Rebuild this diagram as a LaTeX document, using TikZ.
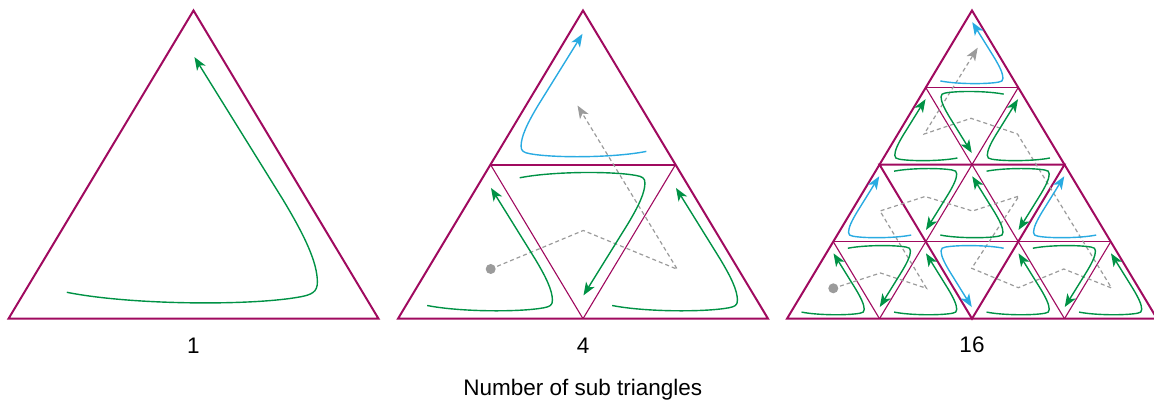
\documentclass[tikz,border=0pt]{standalone}
\usepackage{fontspec}
\setmainfont{Liberation Sans}
\usetikzlibrary{arrows.meta}
\definecolor{tri}{RGB}{160,10,95}
\definecolor{grn}{RGB}{0,146,69}
\definecolor{blu}{RGB}{41,171,226}
\definecolor{gry}{RGB}{155,155,155}
\newcommand\tricurve[4]{%
  \coordinate (cS)  at (barycentric cs:#1=0.7995,#2=0.1148,#3=0.0857);
  \coordinate (cA1) at (barycentric cs:#1=0.6494,#2=0.3061,#3=0.0445);
  \coordinate (cA2) at (barycentric cs:#1=0.3274,#2=0.6314,#3=0.0412);
  \coordinate (cK1) at (barycentric cs:#1=0.1778,#2=0.7517,#3=0.0705);
  \coordinate (cB1) at (barycentric cs:#1=0.1419,#2=0.7805,#3=0.0776);
  \coordinate (cB2) at (barycentric cs:#1=0.1211,#2=0.7922,#3=0.0867);
  \coordinate (cK2) at (barycentric cs:#1=0.1052,#2=0.7747,#3=0.1201);
  \coordinate (cC1) at (barycentric cs:#1=0.0737,#2=0.7422,#3=0.1841);
  \coordinate (cC2) at (barycentric cs:#1=0.0651,#2=0.6664,#3=0.2685);
  \coordinate (cK3) at (barycentric cs:#1=0.0651,#2=0.5495,#3=0.3854);
  \coordinate (cE)  at (barycentric cs:#1=0.0731,#2=0.0782,#3=0.8487);
  \draw[loopcurve,color=#4] (cS) .. controls (cA1) and (cA2) .. (cK1)
     .. controls (cB1) and (cB2) .. (cK2)
     .. controls (cC1) and (cC2) .. (cK3) -- (cE);
}
\begin{document}
\begin{tikzpicture}[x=1pt,y=-1pt,
  edgethick/.style={draw=tri,line width=2pt},
  edgehor/.style={draw=tri,line width=1.6pt},
  edgethin/.style={draw=tri,line width=1.1pt},
  loopcurve/.style={line width=1.4pt,-{Stealth[length=13pt,width=10pt,inset=3.5pt]}},
  graypath/.style={draw=gry,line width=1.2pt,dash pattern=on 4pt off 3pt,
     -{Stealth[length=13pt,width=10pt,inset=3.5pt,fill=gry]}},
  lbl/.style={font=\fontsize{22.5pt}{27pt}\selectfont,anchor=base,inner sep=0pt}]
\useasboundingbox (0,0) rectangle (1154,403);

% ---------- triangle 1 ----------
\coordinate (u0) at (193.5,10.5);
\coordinate (u10) at (8.5,318.7);
\coordinate (u11) at (378.5,318.7);
\draw[edgethick] (u0) -- (u10) -- (u11) -- cycle;
\tricurve{u10}{u11}{u0}{grn}

% ---------- triangle 2 ----------
\foreach \r in {0,1,2} \foreach \k in {0,...,\r}
  \coordinate (w\r\k) at ({583+(\k-\r/2)*185},{10.5+\r*154.1});
\draw[edgethin] (w10) -- (w21);
\draw[edgethin] (w11) -- (w21);
\draw[edgethick] (w10) -- (w11);
\draw[edgethick] (w00) -- (w20) -- (w22) -- cycle;
\coordinate (g1) at (490.7,269);
\coordinate (g2) at (583.3,230.5);
\coordinate (g3) at (677.3,269.3);
\coordinate (g4) at (577.5,105.5);
\draw[graypath] (g1) -- (g2) -- (g3) -- (g4);
\fill[gry] (g1) circle (5);
\tricurve{w20}{w21}{w10}{grn}
\tricurve{w10}{w11}{w21}{grn}
\tricurve{w21}{w22}{w11}{grn}
\tricurve{w11}{w10}{w00}{blu}

% ---------- triangle 3 ----------
\foreach \r in {0,...,4} \foreach \k in {0,...,\r}
  \coordinate (v\r\k) at ({972+(\k-\r/2)*92.5},{10.5+\r*77.05});
\draw[edgethin] (v10) -- (v21);
\draw[edgethin] (v11) -- (v21);
\draw[edgethin] (v21) -- (v31);
\draw[edgethin] (v21) -- (v32);
\draw[edgethin] (v30) -- (v41);
\draw[edgethin] (v31) -- (v41);
\draw[edgethin] (v32) -- (v43);
\draw[edgethin] (v33) -- (v43);
\draw[edgehor] (v10) -- (v11);
\draw[edgehor] (v30) -- (v33);
\draw[edgethick] (v20) -- (v22) -- (v42) -- cycle;
\draw[edgethick] (v00) -- (v40) -- (v44) -- cycle;

\coordinate (h1) at (833.3,288.3);
\coordinate (h2) at (880.5,273);
\coordinate (h3) at (926.5,288.3);
\coordinate (h4) at (880,211);
\coordinate (h5) at (925,196.5);
\coordinate (h6) at (972.5,211);
\coordinate (h7) at (1019,196);
\coordinate (h8) at (971.7,268.3);
\coordinate (h9) at (1018.3,287.7);
\coordinate (h10) at (1063.8,269);
\coordinate (h11) at (1111.5,288);
\coordinate (h12) at (1017.5,134);
\coordinate (h13) at (971,118.3);
\coordinate (h14) at (924.2,134);
\coordinate (h15) at (977.7,47.7);
\draw[graypath] (h1) -- (h2) -- (h3) -- (h4) -- (h5) -- (h6) -- (h7) -- (h8)
  -- (h9) -- (h10) -- (h11) -- (h12) -- (h13) -- (h14) -- (h15);
\fill[gry] (h1) circle (5);

\tricurve{v40}{v41}{v30}{grn}
\tricurve{v30}{v31}{v41}{grn}
\tricurve{v41}{v42}{v31}{grn}
\tricurve{v31}{v30}{v20}{blu}
\tricurve{v20}{v21}{v31}{grn}
\tricurve{v31}{v32}{v21}{grn}
\tricurve{v21}{v22}{v32}{grn}
\tricurve{v32}{v31}{v42}{blu}
\tricurve{v42}{v43}{v32}{grn}
\tricurve{v32}{v33}{v43}{grn}
\tricurve{v43}{v44}{v33}{grn}
\tricurve{v33}{v32}{v22}{blu}
\tricurve{v22}{v21}{v11}{grn}
\tricurve{v11}{v10}{v21}{grn}
\tricurve{v21}{v20}{v10}{grn}
\tricurve{v10}{v11}{v00}{blu}

% ---------- labels ----------
\node[lbl] (n1) at (193.5,353.3) {1};
\node[lbl] (n4) at (583,353.3) {4};
\node[lbl] (n16) at (972,352.7) {16};
\node[lbl] (title) at (582.8,395.7) {Number of sub triangles};
\end{tikzpicture}
\end{document}
